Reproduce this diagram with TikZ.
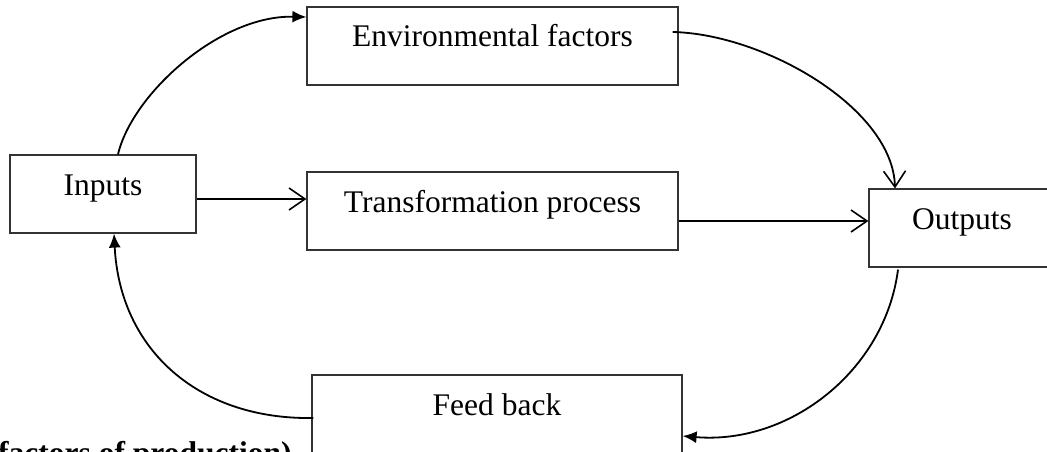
\documentclass[tikz,border=0pt]{standalone}
\usepackage{fontspec}
\setmainfont{Liberation Serif}
\usetikzlibrary{arrows.meta,calc}

\tikzset{
  stagebox/.style={draw=black!80, line width=1.2pt, rectangle, inner xsep=0pt, inner ysep=0pt,
    text height=40pt, text depth=38pt, font=\fontsize{31.5pt}{36pt}\selectfont},
  flow/.style={line width=1.8pt, black},
  solidarrow/.style={flow, -{Latex[length=14pt,width=12pt]}},
  openarrow/.style={flow, -{Straight Barb[length=16pt,width=22pt,line width=1.6pt]}}
}

\begin{document}
\begin{tikzpicture}[x=1pt,y=1pt]
  \useasboundingbox (0,0) rectangle (1047,-452);
  \clip (0,0) rectangle (1047,-452);

  % stages of the system
  \node[stagebox, minimum width=186pt] (in)  at (103,-194)   {Inputs};
  \node[stagebox, minimum width=371pt] (env) at (492.5,-46)  {Environmental factors};
  \node[stagebox, minimum width=371pt] (tr)  at (492.5,-211) {Transformation process};
  \node[stagebox, minimum width=186pt] (out) at (962,-228)   {Outputs};
  \node[stagebox, minimum width=370pt] (fb)  at (497,-414)   {Feed back};

  % caption line running off the lower edge
  \node[anchor=base west, inner sep=0pt, font=\fontsize{31.5pt}{36pt}\selectfont\bfseries]
    (cap) at (-2,-463) {factors of production)};

  % straight flows
  \draw[openarrow] ([yshift=-5pt]in.east) -- ([yshift=-5pt]in.east -| tr.west);
  \draw[openarrow] ([yshift=-10pt]tr.east) -- ([yshift=-10pt]tr.east -| out.west);

  % curved flows
  \draw[solidarrow] ([xshift=15pt]in.north)
    .. controls +(14,60) and +(-87,2) .. ([yshift=29pt]env.west);
  \draw[openarrow] ([xshift=-6pt,yshift=14pt]env.east)
    .. controls +(92,-2) and +(-2,80) .. ([xshift=-67pt]out.north);
  \draw[solidarrow] ([xshift=-64pt,yshift=-2pt]out.south)
    .. controls +(-13,-101) and +(107,-9) .. ([yshift=-22pt]fb.east);
  \draw[solidarrow] ([xshift=2pt,yshift=-4pt]fb.west)
    .. controls +(-114,-2) and +(6,-117) .. ([xshift=11pt]in.south);
\end{tikzpicture}
\end{document}
